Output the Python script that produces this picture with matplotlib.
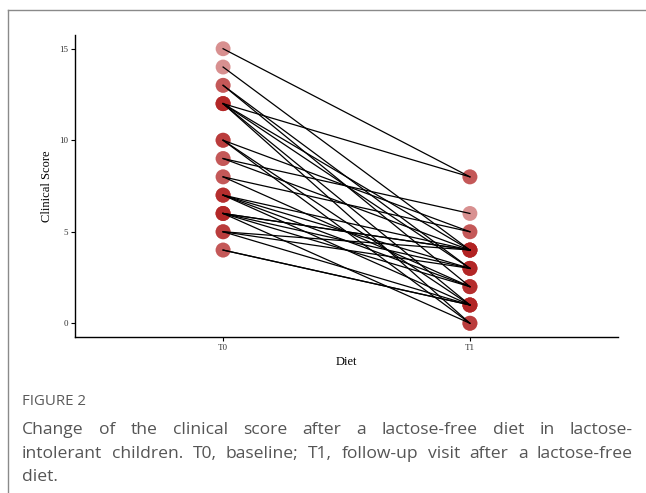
import matplotlib
matplotlib.use("Agg")
import matplotlib.pyplot as plt
from matplotlib.lines import Line2D

# paired clinical scores (one entry per child)
t0_score = [15, 14, 13, 13, 12, 12, 12, 12, 12, 10, 10, 10, 9, 9, 8, 8,
            7, 7, 7, 7, 6, 6, 6, 6, 6, 5, 5, 5, 4, 4]
t1_score = [8, 4, 3, 2, 8, 4, 1, 0, 3, 5, 1, 0, 6, 4, 5, 2,
            4, 3, 2, 1, 4, 4, 3, 2, 0, 4, 3, 1, 1, 1]
groups = ["T0", "T1"]
y_ticks = [0, 5, 10, 15]

caption_title = "FIGURE 2"
caption_lines = [
    "Change of the clinical score after a lactose-free diet in lactose-",
    "intolerant children. T0, baseline; T1, follow-up visit after a lactose-free",
    "diet.",
]

W, H = 646, 493
fig = plt.figure(figsize=(W / 100, H / 100), dpi=100)

# outer frame of the figure panel (grey, cut off at right/bottom)
fig.add_artist(Line2D([8 / W, 8 / W], [0, 1 - 10 / H], color="#8a8a8a", lw=1.0))
fig.add_artist(Line2D([8 / W, 1], [1 - 10 / H, 1 - 10 / H], color="#8a8a8a", lw=1.0))

ax = fig.add_axes([75 / W, (H - 337) / H, (618 - 75) / W, (337 - 35) / H])

for a, b in zip(t0_score, t1_score):
    ax.plot([0, 1], [a, b], color="black", lw=0.9, zorder=3)
ax.scatter([0] * len(t0_score), t0_score, s=115, color="firebrick", alpha=0.5,
           edgecolors="none", zorder=2)
ax.scatter([1] * len(t1_score), t1_score, s=115, color="firebrick", alpha=0.5,
           edgecolors="none", zorder=2)

ax.set_xlim(-0.6, 1.6)
ax.set_ylim(-0.75, 15.75)
ax.set_xticks([0, 1])
ax.set_xticklabels(groups)
ax.set_yticks(y_ticks)
for s in ["top", "right"]:
    ax.spines[s].set_visible(False)
for s in ["left", "bottom"]:
    ax.spines[s].set_linewidth(1.0)
ax.tick_params(length=3, width=0.8, labelsize=6.5, pad=2)
for lbl in ax.get_xticklabels() + ax.get_yticklabels():
    lbl.set_family("Liberation Serif")
    lbl.set_color("#333333")
ax.set_xlabel("Diet", family="Liberation Serif", fontsize=9, labelpad=3)
ax.set_ylabel("Clinical Score", family="Liberation Serif", fontsize=9, labelpad=4)

# caption
fig.text(22 / W, 1 - 405 / H, caption_title, family="Open Sans", fontsize=10.8,
         color="#5a5a5a", va="baseline")

renderer = fig.canvas.get_renderer()
x0, x1 = 22, 633
fs = 12.6
baselines = [434, 458, 481]
for i, line in enumerate(caption_lines):
    words = line.split()
    texts = [fig.text(0, 1 - baselines[i] / H, w, family="Open Sans", fontsize=fs,
                      color="#555555", va="baseline") for w in words]
    widths = [t.get_window_extent(renderer).width for t in texts]
    if i == len(caption_lines) - 1 or len(words) == 1:
        gap = fs * 0.27
    else:
        gap = max((x1 - x0 - sum(widths)) / (len(words) - 1), fs * 0.2)
    x = x0
    for t, w in zip(texts, widths):
        t.set_x(x / W)
        x += w + gap

fig.savefig("out.png", dpi=100)
